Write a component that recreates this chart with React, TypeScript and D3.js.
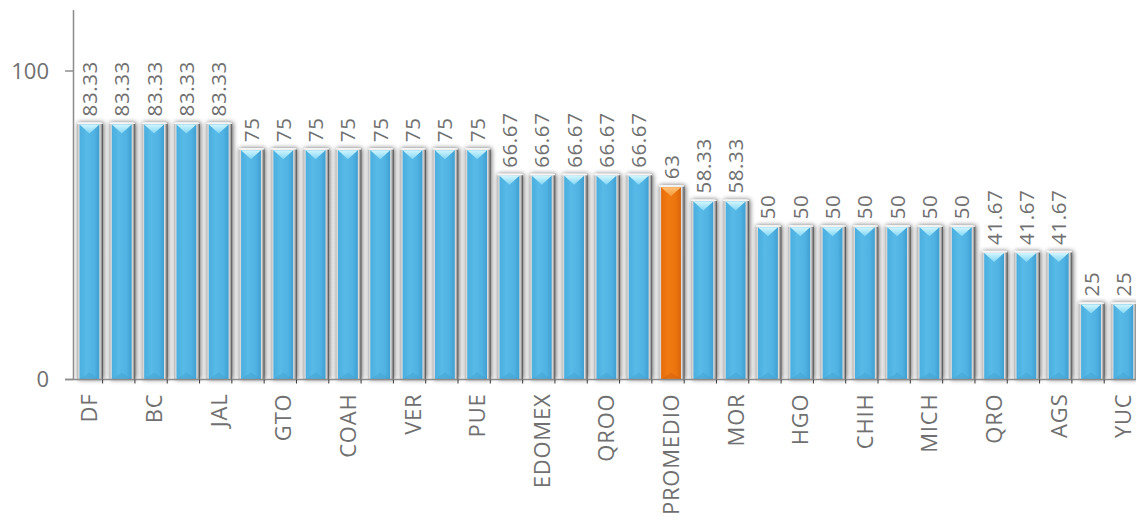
import React from "react";
import * as d3 from "d3";

// State scores with the national average (PROMEDIO) in the middle of the ranking
const categories = [
  "DF", "NL", "BC", "SON", "JAL", "TAMPS", "GTO", "SLP", "COAH", "SIN", "VER",
  "CHIS", "PUE", "OAX", "EDOMEX", "GRO", "QROO", "TAB", "PROMEDIO", "COL", "MOR",
  "NAY", "HGO", "ZAC", "CHIH", "DGO", "MICH", "TLAX", "QRO", "CAMP", "AGS", "BCS", "YUC",
];
const values = [
  83.33, 83.33, 83.33, 83.33, 83.33,
  75, 75, 75, 75, 75, 75, 75, 75,
  66.67, 66.67, 66.67, 66.67, 66.67,
  63,
  58.33, 58.33,
  50, 50, 50, 50, 50, 50, 50,
  41.67, 41.67, 41.67,
  25, 25,
];
const valueLabels = [
  "83.33", "83.33", "83.33", "83.33", "83.33",
  "75", "75", "75", "75", "75", "75", "75", "75",
  "66.67", "66.67", "66.67", "66.67", "66.67",
  "63",
  "58.33", "58.33",
  "50", "50", "50", "50", "50", "50", "50",
  "41.67", "41.67", "41.67",
  "25", "25",
];
const highlight = "PROMEDIO";
const yTicks = [0, 100];

const W = 1136;
const H = 520;
const FONT = "'Open Sans', 'Noto Sans', sans-serif";
const TEXT = "#707070";

export default function App() {
  const x = d3
    .scaleBand<string>()
    .domain(categories)
    .range([73.8, 1140])
    .paddingInner(0.2)
    .paddingOuter(0.1);
  const y = d3.scaleLinear().domain([0, 120]).range([379.5, 9.3]);
  const bw = x.bandwidth();
  const step = x.step();
  const y0 = y(0);

  const data = categories.map((c, i) => ({ c, v: values[i], label: valueLabels[i], i }));

  return (
    <div style={{ position: "fixed", left: 0, top: 0, width: W, height: H, background: "#fff" }}>
      <svg width={W} height={H} style={{ display: "block" }}>
        <defs>
          <filter id="shadow" x="-40%" y="-20%" width="180%" height="140%">
            <feGaussianBlur in="SourceAlpha" stdDeviation="2.6" />
            <feOffset dx="1" dy="0" result="blur" />
            <feComponentTransfer>
              <feFuncA type="linear" slope="0.6" />
            </feComponentTransfer>
            <feMerge>
              <feMergeNode />
              <feMergeNode in="SourceGraphic" />
            </feMerge>
          </filter>
          <linearGradient id="frame" x1="0" x2="1" y1="0" y2="0">
            <stop offset="0" stopColor="#b8b8b8" />
            <stop offset="0.12" stopColor="#ececec" />
            <stop offset="0.88" stopColor="#e2e2e2" />
            <stop offset="0.95" stopColor="#999999" />
            <stop offset="1" stopColor="#3a3a3a" />
          </linearGradient>
          <linearGradient id="blueFill" x1="0" x2="1" y1="0" y2="0">
            <stop offset="0" stopColor="#4aaedf" />
            <stop offset="0.35" stopColor="#57bae7" />
            <stop offset="0.75" stopColor="#4fb2e2" />
            <stop offset="1" stopColor="#3f9fd0" />
          </linearGradient>
          <linearGradient id="orangeFill" x1="0" x2="1" y1="0" y2="0">
            <stop offset="0" stopColor="#e66c0a" />
            <stop offset="0.35" stopColor="#f27a12" />
            <stop offset="0.75" stopColor="#ec740e" />
            <stop offset="1" stopColor="#d8630a" />
          </linearGradient>
          <linearGradient id="blueCap" x1="0" x2="0" y1="0" y2="1">
            <stop offset="0" stopColor="#d2f6ff" />
            <stop offset="1" stopColor="#82d6f4" />
          </linearGradient>
          <linearGradient id="orangeCap" x1="0" x2="0" y1="0" y2="1">
            <stop offset="0" stopColor="#ffc27a" />
            <stop offset="1" stopColor="#f59a3a" />
          </linearGradient>
        </defs>

        {/* bars */}
        <g>
          {data.map((d) => {
            const left = x(d.c)!;
            const top = y(d.v);
            const h = y0 - top;
            const isHi = d.c === highlight;
            const inset = 2.5;
            const il = left + inset;
            const ir = left + bw - inset - 1;
            const it = top + 2;
            const mid = (il + ir) / 2;
            return (
              <g key={d.c}>
                <rect x={left} y={top} width={bw} height={h} fill="url(#frame)" filter="url(#shadow)" />
                <rect x={left} y={top} width={bw} height={1.5} fill="#f6f6f6" />
                <rect x={il} y={it} width={ir - il} height={y0 - it} fill={isHi ? "url(#orangeFill)" : "url(#blueFill)"} />
                <path
                  d={`M${il},${it} L${ir},${it} L${mid},${it + 9} Z`}
                  fill={isHi ? "url(#orangeCap)" : "url(#blueCap)"}
                />
                <path
                  d={`M${il},${y0} L${ir},${y0} L${mid},${y0 - 7} Z`}
                  fill={isHi ? "#c95a08" : "#3b9acb"}
                  opacity={0.35}
                />
              </g>
            );
          })}
        </g>

        {/* value labels */}
        <g fontFamily={FONT} fontSize={20.5} fill={TEXT}>
          {data.map((d) => {
            const cx = x(d.c)! + bw / 2;
            const ty = y(d.v) - 6;
            return (
              <text key={d.c} transform={`translate(${cx + 7},${ty}) rotate(-90)`} textAnchor="start" letterSpacing="0.6">
                {d.label}
              </text>
            );
          })}
        </g>

        {/* axes */}
        <line x1={73.5} x2={73.5} y1={10} y2={y0} stroke="#8c8c8c" strokeWidth={1.5} />
        <line x1={65} x2={W} y1={y0} y2={y0} stroke="#8c8c8c" strokeWidth={1.5} />
        {categories.map((c, i) => {
          const bx = x(c)! + bw + (step - bw) / 2 - 3.5;
          return i < categories.length - 1 ? (
            <line key={c} x1={bx} x2={bx} y1={y0} y2={y0 + 4} stroke="#3a3a3a" strokeWidth={1} />
          ) : null;
        })}
        {yTicks.map((t) => (
          <g key={t}>
            <line x1={65} x2={73.5} y1={y(t)} y2={y(t)} stroke="#8c8c8c" strokeWidth={1.5} />
            <text x={49} y={y(t)} dy="0.35em" textAnchor="end" fontFamily={FONT} fontSize={22} fill={TEXT}>
              {t}
            </text>
          </g>
        ))}

        {/* category labels, every other one */}
        <g fontFamily={FONT} fontSize={22} fill={TEXT}>
          {categories.map((c, i) =>
            i % 2 === 0 ? (
              <text
                key={c}
                transform={`translate(${x(c)! + bw / 2 + 7.5},${y0 + 14}) rotate(-90)`}
                textAnchor="end"
                letterSpacing="0.8"
              >
                {c}
              </text>
            ) : null
          )}
        </g>
      </svg>
    </div>
  );
}
